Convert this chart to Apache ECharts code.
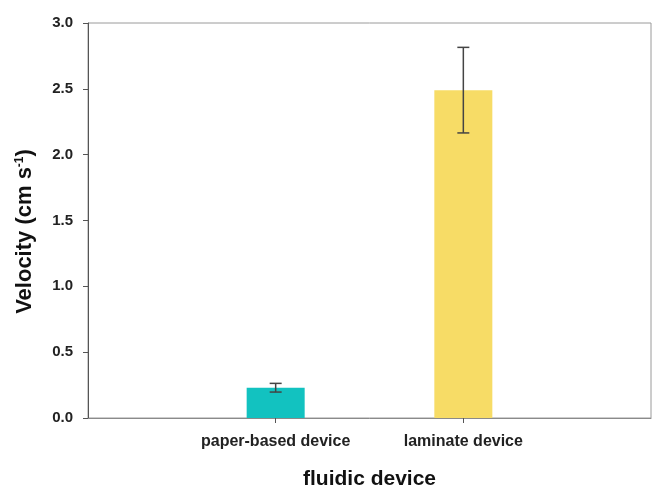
<!DOCTYPE html>
<html>
<head>
<meta charset="utf-8">
<script src="https://cdn.jsdelivr.net/npm/echarts@6/dist/echarts.min.js"></script>
<style>
  html, body { margin: 0; padding: 0; background: #fff; }
  #main { width: 654px; height: 497px; }
</style>
</head>
<body>
<div id="main"></div>
<script>
// categories (blank slots at both ends keep the bars at x = 1 and 2 of 0..3)
const categories = ['', 'paper-based device', 'laminate device', ''];
const velocity = [null, 0.23, 2.49, null];
const velocityErr = [null, 0.033, 0.325, null];
const barColors = ['#12C2C0', '#12C2C0', '#F7DC66', '#F7DC66'];

const chart = echarts.init(document.getElementById('main'));

// error bar data: [category index, low, high]
const errData = [];
velocity.forEach((v, i) => {
  if (v != null) errData.push([i, v - velocityErr[i], v + velocityErr[i]]);
});

const font = 'Liberation Sans, Arial, sans-serif';

const option = {
  animation: false,
  grid: {
    left: 88, right: 2, top: 23, bottom: 79,
    show: true,
    borderColor: '#9a9a9a',
    borderWidth: 1
  },
  xAxis: {
    type: 'category',
    data: categories,
    boundaryGap: false,
    axisLine: { lineStyle: { color: '#8a8a8a', width: 1 } },
    axisTick: {
      length: 5,
      interval: (i) => i === 1 || i === 2,
      lineStyle: { color: '#555' }
    },
    axisLabel: {
      interval: 0,
      margin: 16,
      fontFamily: font,
      fontWeight: 'bold',
      fontSize: 16,
      color: '#222'
    },
    name: 'fluidic device',
    nameLocation: 'middle',
    nameGap: 51,
    nameTextStyle: {
      fontFamily: font,
      fontWeight: 'bold',
      fontSize: 21,
      color: '#111'
    }
  },
  yAxis: {
    type: 'value',
    min: 0,
    max: 3,
    interval: 0.5,
    splitLine: { show: false },
    axisLine: { show: true, lineStyle: { color: '#555', width: 1 } },
    axisTick: { show: true, length: 5, lineStyle: { color: '#555' } },
    axisLabel: {
      margin: 15,
      formatter: (v) => v.toFixed(1),
      fontFamily: font,
      fontWeight: 'bold',
      fontSize: 15,
      color: '#222'
    },
    name: 'Velocity (cm s{sup|-1})',
    nameLocation: 'middle',
    nameGap: 52,
    nameTextStyle: {
      fontFamily: font,
      fontWeight: 'bold',
      fontSize: 22,
      color: '#111',
      padding: [0, 22, 0, 0],
      rich: {
        sup: {
          fontFamily: font,
          fontWeight: 'bold',
          fontSize: 12,
          color: '#111',
          verticalAlign: 'top',
          padding: [0, 0, 10, 0]
        }
      }
    }
  },
  series: [
    {
      type: 'bar',
      data: velocity.map((v, i) => v == null ? null : { value: v, itemStyle: { color: barColors[i] } }),
      barWidth: 58
    },
    {
      type: 'custom',
      data: errData,
      z: 10,
      renderItem: function (params, api) {
        const x = api.value(0);
        const lo = api.coord([x, api.value(1)]);
        const hi = api.coord([x, api.value(2)]);
        const cap = 6;
        const style = { stroke: '#444', lineWidth: 1.5 };
        return {
          type: 'group',
          children: [
            { type: 'line', shape: { x1: lo[0], y1: lo[1], x2: hi[0], y2: hi[1] }, style: style },
            { type: 'line', shape: { x1: lo[0] - cap, y1: lo[1], x2: lo[0] + cap, y2: lo[1] }, style: style },
            { type: 'line', shape: { x1: hi[0] - cap, y1: hi[1], x2: hi[0] + cap, y2: hi[1] }, style: style }
          ]
        };
      }
    }
  ]
};

chart.setOption(option);
</script>
</body>
</html>
